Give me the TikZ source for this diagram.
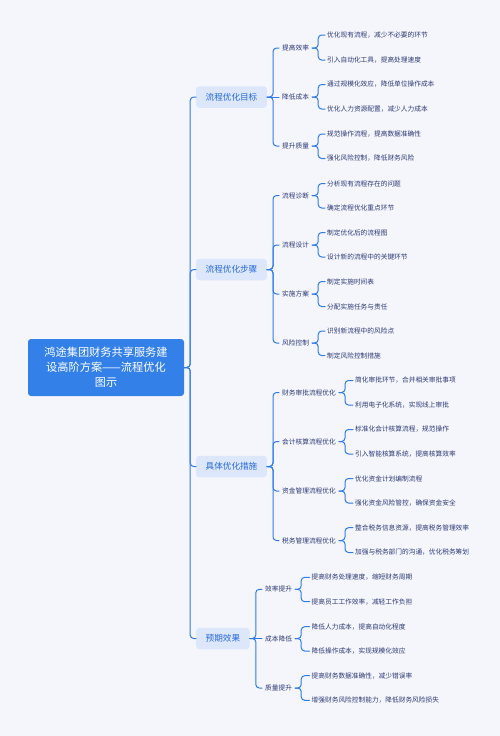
\documentclass[tikz,border=0pt]{standalone}
\usepackage{fontspec}
\setmainfont{Noto Sans CJK SC}
\definecolor{bgpaper}{HTML}{F5F6FC}
\definecolor{linkblue}{HTML}{2F7BEA}
\definecolor{rootblue}{HTML}{3480E9}
\definecolor{topicfill}{HTML}{DDE7FB}
\definecolor{topictext}{HTML}{2469D8}
\definecolor{leaftext}{HTML}{2B3873}
\begin{document}
\begin{tikzpicture}[x=1pt,y=-1pt,line join=round,line cap=round]
	\tikzset{link/.style={draw=linkblue,line width=1pt,rounded corners=3.5pt},
		rootbox/.style={fill=rootblue,rounded corners=3pt,text=white,minimum width=156pt,minimum height=57pt,align=center,font=\fontsize{11.2}{15}\selectfont},
		topic/.style={anchor=west,fill=topicfill,rounded corners=3pt,text=topictext,inner xsep=9.5pt,minimum height=21.5pt,font=\fontsize{8.6}{10}\selectfont},
		sub/.style={anchor=west,text=leaftext,inner xsep=3pt,inner ysep=1pt,font=\fontsize{6.7}{8}\selectfont},
		leaf/.style={sub,inner xsep=2pt}}
	\fill[bgpaper] (0,0) rectangle (500,736);
	\node[rootbox] (root) at (106,367.5) {鸿途集团财务共享服务建\\设高阶方案——流程优化\\图示};
	\foreach \nm/\yy/\txt in {t1/97/流程优化目标,t2/269.5/流程优化步骤,t3/466.5/具体优化措施,t4/638.5/预期效果}
		\node[topic] (\nm) at (196,\yy) {\txt};
	% 流程优化目标
	\foreach \nm/\yy/\txt in {t1a/48/提高效率,t1b/97/降低成本,t1c/146/提升质量,
		t2a/195.5/流程诊断,t2b/245/流程设计,t2c/294/实施方案,t2d/343/风险控制,
		t3a/392.5/财务审批流程优化,t3b/441.5/会计核算流程优化,t3c/491/资金管理流程优化,t3d/540.5/税务管理流程优化}
		\node[sub] (\nm) at (279,\yy) {\txt};
	\foreach \nm/\yy/\txt in {t4a/589.3/效率提升,t4b/638.5/成本降低,t4c/688/质量提升}
		\node[sub] (\nm) at (262,\yy) {\txt};
	\foreach \nm/\yy/\txt in {t1a1/35/优化现有流程，减少不必要的环节,t1a2/60/引入自动化工具，提高处理速度,
		t1b1/84.5/通过规模化效应，降低单位操作成本,t1b2/109/优化人力资源配置，减少人力成本,
		t1c1/134/规范操作流程，提高数据准确性,t1c2/158.5/强化风险控制，降低财务风险,
		t2a1/183.5/分析现有流程存在的问题,t2a2/208/确定流程优化重点环节,
		t2b1/232.5/制定优化后的流程图,t2b2/257/设计新的流程中的关键环节,
		t2c1/281.5/制定实施时间表,t2c2/306.5/分配实施任务与责任,
		t2d1/331/识别新流程中的风险点,t2d2/355.5/制定风险控制措施}
		\node[leaf] (\nm) at (325,\yy) {\txt};
	% 具体优化措施
	\foreach \nm/\yy/\txt in {t3a1/380.5/简化审批环节，合并相关审批事项,t3a2/405/利用电子化系统，实现线上审批,
		t3b1/429.5/标准化会计核算流程，规范操作,t3b2/454/引入智能核算系统，提高核算效率,
		t3c1/478.5/优化资金计划编制流程,t3c2/503/强化资金风险管控，确保资金安全,
		t3d1/527.7/整合税务信息资源，提高税务管理效率,t3d2/552.5/加强与税务部门的沟通，优化税务筹划}
		\node[leaf] (\nm) at (353,\yy) {\txt};
	% 预期效果
	\foreach \nm/\yy/\txt in {t4a1/577.3/提高财务处理速度，缩短财务周期,t4a2/601.7/提高员工工作效率，减轻工作负担,
		t4b1/626.7/降低人力成本，提高自动化程度,t4b2/651/降低操作成本，实现规模化效应,
		t4c1/675.7/提高财务数据准确性，减少错误率,t4c2/700.3/增强财务风险控制能力，降低财务风险损失}
		\node[leaf] (\nm) at (309.5,\yy) {\txt};
	% connectors
	\foreach \t in {t1,t2,t3,t4}
		\draw[link] (root.east) -- ++(6,0) |- (\t.west);
	\foreach \g/\s in {t1/a,t1/c,t2/a,t2/b,t2/c,t2/d,t3/a,t3/b,t3/c,t3/d,t4/a,t4/c}
		\draw[link] (\g.east) -- ++(6,0) |- (\g\s.west);
	\draw[link] (t1.east) -- (t1b.west);
	\draw[link] (t4.east) -- (t4b.west);
	\foreach \p in {t1a,t1b,t1c,t2a,t2b,t2c,t2d,t3a,t3b,t3c,t3d,t4a,t4b,t4c}{
		\draw[link] (\p.east) -- ++(6,0) |- (\p1.west);
		\draw[link] (\p.east) -- ++(6,0) |- (\p2.west);
	}
\end{tikzpicture}
\end{document}
